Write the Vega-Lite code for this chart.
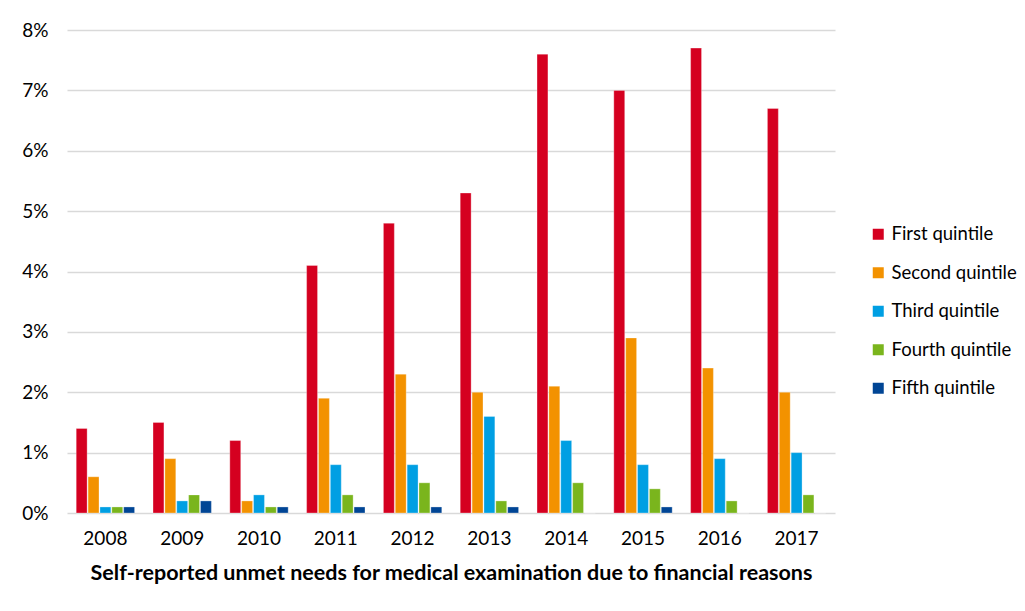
{
  "$schema": "https://vega.github.io/schema/vega-lite/v6.json",
  "width": 768,
  "height": 483,
  "autosize": {"type": "none"},
  "padding": {"left": 67, "top": 30, "right": 190, "bottom": 98},
  "background": "white",
  "config": {
    "view": {"stroke": null},
    "font": "Lato",
    "axis": {"labelFont": "Lato", "titleFont": "Lato"},
    "legend": {"labelFont": "Lato"}
  },
  "data": {
    "values": [
      {"year": "2008", "quintile": "First quintile", "share": 0.014},
      {"year": "2008", "quintile": "Second quintile", "share": 0.006},
      {"year": "2008", "quintile": "Third quintile", "share": 0.001},
      {"year": "2008", "quintile": "Fourth quintile", "share": 0.001},
      {"year": "2008", "quintile": "Fifth quintile", "share": 0.001},
      {"year": "2009", "quintile": "First quintile", "share": 0.015},
      {"year": "2009", "quintile": "Second quintile", "share": 0.009},
      {"year": "2009", "quintile": "Third quintile", "share": 0.002},
      {"year": "2009", "quintile": "Fourth quintile", "share": 0.003},
      {"year": "2009", "quintile": "Fifth quintile", "share": 0.002},
      {"year": "2010", "quintile": "First quintile", "share": 0.012},
      {"year": "2010", "quintile": "Second quintile", "share": 0.002},
      {"year": "2010", "quintile": "Third quintile", "share": 0.003},
      {"year": "2010", "quintile": "Fourth quintile", "share": 0.001},
      {"year": "2010", "quintile": "Fifth quintile", "share": 0.001},
      {"year": "2011", "quintile": "First quintile", "share": 0.041},
      {"year": "2011", "quintile": "Second quintile", "share": 0.019},
      {"year": "2011", "quintile": "Third quintile", "share": 0.008},
      {"year": "2011", "quintile": "Fourth quintile", "share": 0.003},
      {"year": "2011", "quintile": "Fifth quintile", "share": 0.001},
      {"year": "2012", "quintile": "First quintile", "share": 0.048},
      {"year": "2012", "quintile": "Second quintile", "share": 0.023},
      {"year": "2012", "quintile": "Third quintile", "share": 0.008},
      {"year": "2012", "quintile": "Fourth quintile", "share": 0.005},
      {"year": "2012", "quintile": "Fifth quintile", "share": 0.001},
      {"year": "2013", "quintile": "First quintile", "share": 0.053},
      {"year": "2013", "quintile": "Second quintile", "share": 0.020},
      {"year": "2013", "quintile": "Third quintile", "share": 0.016},
      {"year": "2013", "quintile": "Fourth quintile", "share": 0.002},
      {"year": "2013", "quintile": "Fifth quintile", "share": 0.001},
      {"year": "2014", "quintile": "First quintile", "share": 0.076},
      {"year": "2014", "quintile": "Second quintile", "share": 0.021},
      {"year": "2014", "quintile": "Third quintile", "share": 0.012},
      {"year": "2014", "quintile": "Fourth quintile", "share": 0.005},
      {"year": "2014", "quintile": "Fifth quintile", "share": 0.0},
      {"year": "2015", "quintile": "First quintile", "share": 0.070},
      {"year": "2015", "quintile": "Second quintile", "share": 0.029},
      {"year": "2015", "quintile": "Third quintile", "share": 0.008},
      {"year": "2015", "quintile": "Fourth quintile", "share": 0.004},
      {"year": "2015", "quintile": "Fifth quintile", "share": 0.001},
      {"year": "2016", "quintile": "First quintile", "share": 0.077},
      {"year": "2016", "quintile": "Second quintile", "share": 0.024},
      {"year": "2016", "quintile": "Third quintile", "share": 0.009},
      {"year": "2016", "quintile": "Fourth quintile", "share": 0.002},
      {"year": "2016", "quintile": "Fifth quintile", "share": 0.0},
      {"year": "2017", "quintile": "First quintile", "share": 0.067},
      {"year": "2017", "quintile": "Second quintile", "share": 0.020},
      {"year": "2017", "quintile": "Third quintile", "share": 0.010},
      {"year": "2017", "quintile": "Fourth quintile", "share": 0.003},
      {"year": "2017", "quintile": "Fifth quintile", "share": 0.0}
    ]
  },
  "mark": {"type": "bar", "stroke": "white", "strokeOpacity": 0.6, "strokeWidth": 0.5},
  "encoding": {
    "x": {
      "field": "year",
      "type": "nominal",
      "scale": {"paddingInner": 0.24, "paddingOuter": 0.12},
      "axis": {
        "title": "Self-reported unmet needs for medical examination due to financial reasons",
        "titleFontSize": 21.5,
        "titleFontWeight": "bold",
        "titleColor": "#000000",
        "titlePadding": 14,
        "labelAngle": 0,
        "labelFontSize": 19,
        "labelColor": "#000000",
        "labelPadding": 16,
        "ticks": false,
        "domain": false
      }
    },
    "xOffset": {
      "field": "quintile",
      "type": "nominal",
      "sort": ["First quintile", "Second quintile", "Third quintile", "Fourth quintile", "Fifth quintile"],
      "scale": {"paddingInner": 0.08}
    },
    "y": {
      "field": "share",
      "type": "quantitative",
      "scale": {"domain": [0, 0.08], "nice": false},
      "axis": {
        "title": null,
        "format": ".0%",
        "values": [0, 0.01, 0.02, 0.03, 0.04, 0.05, 0.06, 0.07, 0.08],
        "labelFontSize": 19,
        "labelColor": "#000000",
        "labelPadding": 19,
        "ticks": false,
        "domain": false,
        "grid": true,
        "gridColor": "#d9d9d9",
        "gridWidth": 1.5
      }
    },
    "color": {
      "field": "quintile",
      "type": "nominal",
      "sort": ["First quintile", "Second quintile", "Third quintile", "Fourth quintile", "Fifth quintile"],
      "scale": {
        "domain": ["First quintile", "Second quintile", "Third quintile", "Fourth quintile", "Fifth quintile"],
        "range": ["#d50020", "#f39200", "#009fe3", "#7ab51d", "#004595"]
      },
      "legend": {
        "title": null,
        "orient": "none",
        "legendX": 802,
        "legendY": 195,
        "symbolType": "square",
        "symbolSize": 121,
        "symbolStrokeWidth": 0,
        "labelFontSize": 18.5,
        "labelColor": "#000000",
        "rowPadding": 19.5,
        "labelOffset": 4
      }
    }
  }
}
